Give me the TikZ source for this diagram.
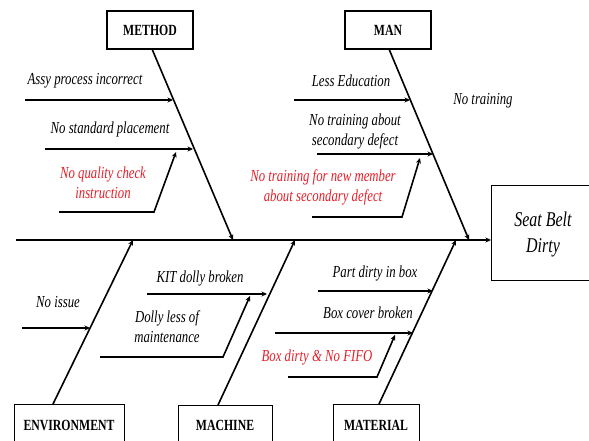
\documentclass[tikz,border=0pt]{standalone}
\usepackage{fontspec}
\setmainfont[FakeStretch=0.76]{Liberation Serif}
\usetikzlibrary{arrows.meta}
\definecolor{redtxt}{RGB}{230,30,40}
\tikzset{
  ln/.style={line width=1.6pt, black},
  arr/.style={ln, -{Stealth[length=5.5pt,width=5pt]}},
  catfont/.style={font=\fontsize{15.5}{17}\selectfont\bfseries},
  catbox/.style={draw, line width=1.1pt, minimum width=86pt, minimum height=38pt, catfont, inner sep=0pt},
  cause/.style={font=\fontsize{16.8}{20}\selectfont\itshape, align=center, inner sep=0pt},
  redcause/.style={cause, text=redtxt},
}
\begin{document}
\begin{tikzpicture}[x=1pt,y=-1pt]
\useasboundingbox (0,0) rectangle (589,441);
\clip (0,0) rectangle (589,441);
% effect box
\node[draw, line width=1.1pt, minimum width=102pt, minimum height=95pt, anchor=north west, inner sep=0pt] (sb) at (491,185) {};
\node[cause, font=\fontsize{21}{26}\selectfont\itshape] (sbt) at (543,234) {Seat Belt\\Dirty};
% main spine
\coordinate (m0) at (16,240);
\draw[arr] (m0) -- (m0 -| sb.west);
% category boxes
\node[catbox] (method) at (150,30) {METHOD};
\node[catbox] (man) at (388,30) {MAN};
\node[catbox, minimum width=110pt, anchor=north west] (env) at (14,404) {};
\node[catfont] (envt) at (69,425) {ENVIRONMENT};
\node[catbox, minimum width=94pt, anchor=north west] (mach) at (178,405) {};
\node[catfont] (macht) at (225,425) {MACHINE};
\node[catbox, minimum width=86pt, anchor=north west] (mat) at (333,404) {};
\node[catfont] (matt) at (376,425) {MATERIAL};
% spine endpoints
\coordinate (pmethod) at (233,240);
\coordinate (pman) at (469,240);
\coordinate (penv) at (133,240);
\coordinate (pmach) at (295,240);
\coordinate (pmat) at (456,240);
\draw[arr] (152,49) coordinate (smethod) -- (pmethod);
\draw[arr] (389,49) coordinate (sman) -- (pman);
\draw[arr] (53,404) coordinate (senv) -- (penv);
\draw[arr] (218,405) coordinate (smach) -- (pmach);
\draw[arr] (379,404) coordinate (smat) -- (pmat);
% METHOD causes
\coordinate (a1) at (25,100); \coordinate (a1e) at (173,100);
\draw[arr] (a1) -- (a1e);
\node[cause] (t1) at (85,81) {Assy process incorrect};
\coordinate (a2) at (45,149); \coordinate (a2e) at (193,149);
\draw[arr] (a2) -- (a2e);
\node[cause] (t2) at (110,129) {No standard placement};
\coordinate (a3) at (59,212); \coordinate (a3k) at (154,212); \coordinate (a3e) at (176,152);
\draw[arr] (a3) -- (a3k) -- (a3e);
\node[redcause] (t3) at (103,183) {No quality check\\instruction};
% MAN causes
\coordinate (b1) at (294,100); \coordinate (b1e) at (410,100);
\draw[arr] (b1) -- (b1e);
\node[cause] (u1) at (351,81) {Less Education};
\coordinate (b2) at (317,154); \coordinate (b2e) at (433,154);
\draw[arr] (b2) -- (b2e);
\node[cause] (u2) at (355,131) {No training about\\secondary defect};
\coordinate (b3) at (312,217); \coordinate (b3k) at (402,217); \coordinate (b3e) at (420,158);
\draw[arr] (b3) -- (b3k) -- (b3e);
\node[redcause] (u3) at (323,187) {No training for new member\\about secondary defect};
\node[cause] (u4) at (483,101) {No training};
% ENVIRONMENT
\coordinate (c1) at (22,328); \coordinate (c1e) at (90,328);
\draw[arr] (c1) -- (c1e);
\node[cause] (v1) at (58,302) {No issue};
% MACHINE
\coordinate (d1) at (147,294); \coordinate (d1e) at (267,294);
\draw[arr] (d1) -- (d1e);
\node[cause] (w1) at (200,278) {KIT dolly broken};
\coordinate (d2) at (100,357); \coordinate (d2k) at (223,357); \coordinate (d2e) at (250,296);
\draw[arr] (d2) -- (d2k) -- (d2e);
\node[cause] (w2) at (167,327) {Dolly less of\\maintenance};
% MATERIAL
\coordinate (e1) at (318,291); \coordinate (e1e) at (433,291);
\draw[arr] (e1) -- (e1e);
\node[cause] (x1) at (375,273) {Part dirty in box};
\coordinate (e2) at (275,333); \coordinate (e2e) at (413,333);
\draw[arr] (e2) -- (e2e);
\node[cause] (x2) at (368,313) {Box cover broken};
\coordinate (e3) at (288,377); \coordinate (e3k) at (377,377); \coordinate (e3e) at (395,335);
\draw[arr] (e3) -- (e3k) -- (e3e);
\node[redcause] (x3) at (317,357) {Box dirty \& No FIFO};
\end{tikzpicture}
\end{document}
